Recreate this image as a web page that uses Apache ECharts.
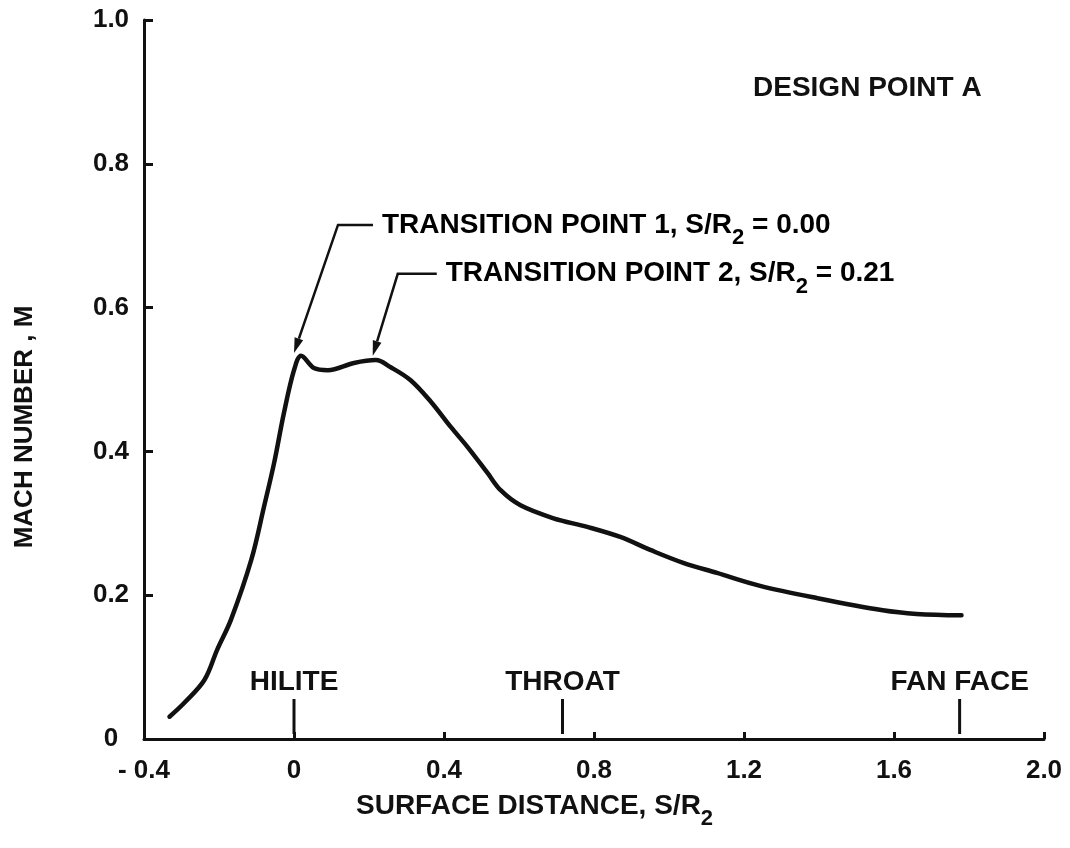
<!DOCTYPE html>
<html>
<head>
<meta charset="utf-8">
<script src="https://cdn.jsdelivr.net/npm/echarts@6/dist/echarts.min.js"></script>
<style>
  html, body { margin: 0; padding: 0; background: #fff; }
  #chart { width: 1070px; height: 848px; }
</style>
</head>
<body>
<div id="chart"></div>
<script>
// Surface Mach number distribution along the inlet, design point A
const surfaceDistance = [
  -0.332, -0.293, -0.239, -0.205, -0.168, -0.114, -0.080, -0.053, -0.027, 0.000,
  0.019, 0.053, 0.090, 0.160, 0.218, 0.258, 0.311, 0.365, 0.418, 0.463,
  0.516, 0.551, 0.604, 0.692, 0.782, 0.870, 0.950, 1.038, 1.128, 1.243,
  1.394, 1.570, 1.660, 1.780
];
const machNumber = [
  0.031, 0.050, 0.082, 0.124, 0.166, 0.249, 0.323, 0.384, 0.453, 0.513,
  0.533, 0.516, 0.513, 0.523, 0.527, 0.517, 0.499, 0.469, 0.434, 0.406,
  0.370, 0.346, 0.325, 0.307, 0.295, 0.281, 0.263, 0.245, 0.231, 0.213,
  0.196, 0.179, 0.174, 0.172
];

// Geometric stations along the surface
const stationNames = ['HILITE', 'THROAT', 'FAN FACE'];
const stationS = [0.0, 0.716, 1.775];

// Transition points
const transitionNames = ['TRANSITION POINT 1', 'TRANSITION POINT 2'];
const transitionS = [0.00, 0.21];
const transitionMach = [0.537, 0.533];

// Tick labels
const xTickLabels = ['- 0.4', '0', '0.4', '0.8', '1.2', '1.6', '2.0'];
const yTickLabels = ['0', '0.2', '0.4', '0.6', '0.8', '1.0'];

const FONT = '"Liberation Sans", Arial, Helvetica, sans-serif';
const INK = '#111';

const chart = echarts.init(document.getElementById('chart'), null, { renderer: 'canvas' });

// leader geometry (pixels) from arrow tip to label
const leaders = [
  { dx: 44, dy: -128, run: 35 },
  { dx: 25, dy: -82, run: 39 }
];

const subStyle = { fontSize: 22, fontWeight: 'bold', fontFamily: FONT, color: INK, padding: [26, 0, 0, 0] };
const mainStyle = { fontSize: 28, fontWeight: 'bold', fontFamily: FONT, color: INK };

const option = {
  backgroundColor: '#fff',
  animation: false,
  grid: { left: 144, right: 26, top: 20, bottom: 109, containLabel: false },
  xAxis: {
    type: 'value',
    min: -0.4, max: 2.0, interval: 0.4,
    axisLine: { show: true, onZero: false, lineStyle: { color: INK, width: 3 } },
    axisTick: { show: true, inside: true, length: 7, lineStyle: { color: INK, width: 3 } },
    splitLine: { show: false },
    axisLabel: {
      margin: 19,
      color: INK, fontSize: 26, fontWeight: 'bold', fontFamily: FONT,
      formatter: v => xTickLabels[Math.round((v + 0.4) / 0.4)]
    }
  },
  yAxis: {
    type: 'value',
    min: 0, max: 1.0, interval: 0.2,
    axisLine: { show: true, onZero: false, lineStyle: { color: INK, width: 3 } },
    axisTick: { show: true, inside: true, length: 9, lineStyle: { color: INK, width: 3 } },
    splitLine: { show: false },
    axisLabel: {
      margin: 33, align: 'center',
      color: INK, fontSize: 26, fontWeight: 'bold', fontFamily: FONT,
      formatter: v => yTickLabels[Math.round(v / 0.2)]
    }
  },
  graphic: [
    {
      type: 'text', left: 753, top: 74,
      style: { text: 'DESIGN POINT A', font: 'bold 28px ' + FONT, fill: INK }
    },
    {
      type: 'text', left: 356, top: 792,
      style: {
        text: '{m|SURFACE DISTANCE, S/R}{s|2}',
        rich: { m: mainStyle, s: subStyle },
        fill: INK
      }
    },
    {
      type: 'text', x: 25, y: 427,
      rotation: Math.PI / 2,
      style: {
        text: 'MACH NUMBER , M', font: 'bold 26px ' + FONT, fill: INK,
        align: 'center', verticalAlign: 'middle'
      }
    }
  ],
  series: [
    {
      name: 'Mach number',
      type: 'line',
      data: surfaceDistance.map((s, i) => [s, machNumber[i]]),
      smooth: 0.35,
      showSymbol: false,
      lineStyle: { color: INK, width: 4.5, cap: 'round', join: 'round' },
      z: 3
    },
    {
      name: 'stations',
      type: 'custom',
      data: stationS.map((s, i) => [s, 0, i]),
      renderItem: (params, api) => {
        const p = api.coord([api.value(0), 0]);
        const name = stationNames[api.value(2)];
        return {
          type: 'group',
          children: [
            {
              type: 'line',
              shape: { x1: p[0], y1: p[1] - 5, x2: p[0], y2: p[1] - 40 },
              style: { stroke: INK, lineWidth: 3 }
            },
            {
              type: 'text',
              style: {
                text: name, x: p[0], y: p[1] - 57,
                align: 'center', verticalAlign: 'middle',
                font: 'bold 28px ' + FONT, fill: INK
              }
            }
          ]
        };
      },
      z: 4
    },
    {
      name: 'transitions',
      type: 'custom',
      data: transitionS.map((s, i) => [s, transitionMach[i], i]),
      renderItem: (params, api) => {
        const i = api.value(2);
        const tip = api.coord([api.value(0), api.value(1)]);
        const L = leaders[i];
        const knee = [tip[0] + L.dx, tip[1] + L.dy];
        const end = [knee[0] + L.run, knee[1]];
        const ang = Math.atan2(tip[1] - knee[1], tip[0] - knee[0]);
        const len = 15, hw = 4.5;
        const bx = tip[0] - len * Math.cos(ang), by = tip[1] - len * Math.sin(ang);
        const nx = -Math.sin(ang) * hw, ny = Math.cos(ang) * hw;
        const sVal = transitionS[i].toFixed(2);
        return {
          type: 'group',
          children: [
            {
              type: 'polyline',
              shape: { points: [[bx, by], knee, end] },
              style: { stroke: INK, lineWidth: 2.5, fill: null }
            },
            {
              type: 'polygon',
              shape: { points: [tip, [bx + nx, by + ny], [bx - nx, by - ny]] },
              style: { fill: INK }
            },
            {
              type: 'text',
              style: {
                text: '{m|' + transitionNames[i] + ', S/R}{s|2}{m| = ' + sVal + '}',
                rich: { m: mainStyle, s: subStyle },
                x: end[0] + 9, y: knee[1],
                align: 'left', verticalAlign: 'middle'
              }
            }
          ]
        };
      },
      z: 5
    }
  ]
};

chart.setOption(option);
</script>
</body>
</html>
